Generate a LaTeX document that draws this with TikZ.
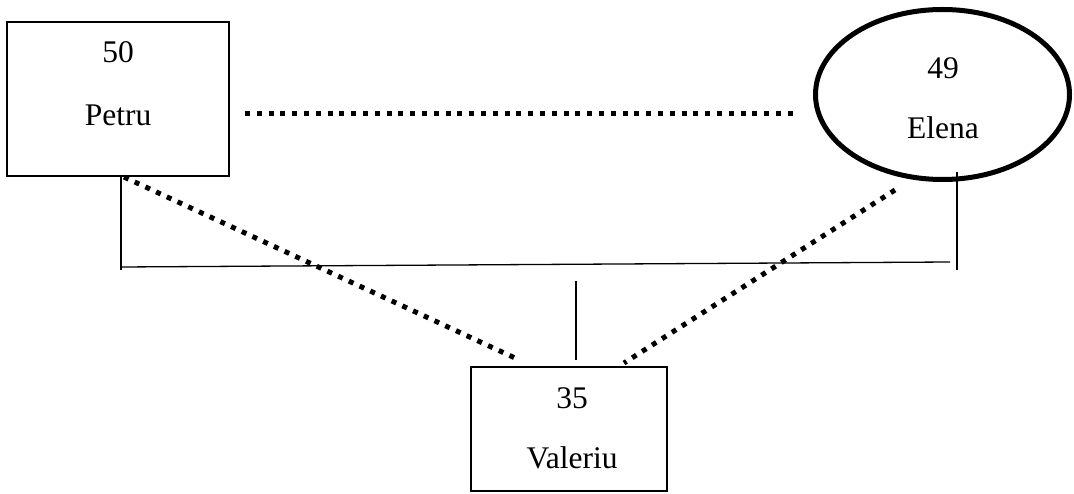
\documentclass[tikz,border=0pt]{standalone}
\usepackage{fontspec}
\setmainfont{Liberation Serif}
\usetikzlibrary{shapes.geometric}
\begin{document}
\begin{tikzpicture}[x=1pt,y=-1pt,
  person/.style={draw,line width=1.3pt,inner sep=0pt},
  thickoval/.style={draw,ellipse,line width=5pt,inner sep=0pt},
  lbl/.style={font=\fontsize{31.5}{31.5}\selectfont,inner sep=0pt},
  dotline/.style={line width=5pt,dash pattern=on 5pt off 6.8pt},
  thin/.style={line width=1.3pt}]
\useasboundingbox (0,0) rectangle (1074,494);
% shapes
\node[person,minimum width=222pt,minimum height=154pt] (petru) at (118,99) {};
\node[thickoval,minimum width=254pt,minimum height=170pt] (elena) at (942.5,94.5) {};
\node[person,minimum width=196pt,minimum height=124pt] (valeriu) at (569,429) {};
% labels
\node[lbl] (petruage) at (118,52) {50};
\node[lbl] (petruname) at (118,115) {Petru};
\node[lbl] (elenaage) at (943,68) {49};
\node[lbl] (elenaname) at (943,128) {Elena};
\node[lbl] (valage) at (572,398) {35};
\node[lbl] (valname) at (572,458) {Valeriu};
% coordinates for connector ends
\coordinate (pd1) at (245,114);
\coordinate (ed1) at (797,114);
\coordinate (pd2) at (124,177);
\coordinate (vd1) at (515,358);
\coordinate (ed2) at (895,190);
\coordinate (vd2) at (624,363);
\coordinate (pv) at (121,176);
\coordinate (pl) at (121,270);
\coordinate (ev) at (957,172);
\coordinate (el) at (957,270);
\coordinate (hl) at (121,267);
\coordinate (hr) at (950,262);
\coordinate (vt) at (576,281);
\coordinate (vb) at (576,360);
% dotted relations
\draw[dotline] (pd1) -- (ed1);
\draw[dotline] (pd2) -- (vd1);
\draw[dotline] (ed2) -- (vd2);
% thin family lines
\draw[thin] (pv) -- (pl);
\draw[thin] (ev) -- (el);
\draw[thin] (hl) -- (hr);
\draw[thin] (vt) -- (vb);
\end{tikzpicture}
\end{document}
